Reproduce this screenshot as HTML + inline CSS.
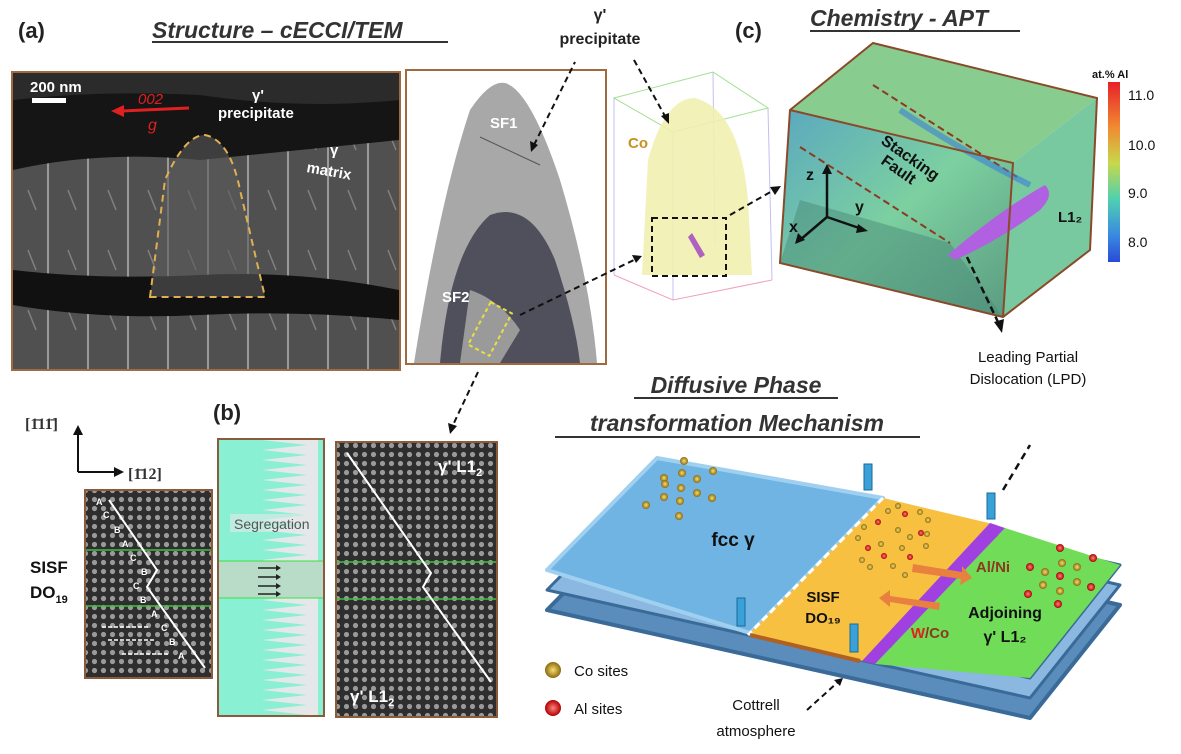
<!DOCTYPE html>
<html><head><meta charset="utf-8"><style>
body{margin:0;background:#fff;width:1181px;height:749px;overflow:hidden;font-family:"Liberation Sans",sans-serif}
</style></head><body>
<svg width="1181" height="749" viewBox="0 0 1181 749" xmlns="http://www.w3.org/2000/svg" font-family="Liberation Sans, sans-serif">
<defs>
<linearGradient id="cb" x1="0" y1="0" x2="0" y2="1"><stop offset="0" stop-color="#e8202a"/><stop offset="0.25" stop-color="#f08a30"/><stop offset="0.45" stop-color="#c8d84a"/><stop offset="0.65" stop-color="#50d0b0"/><stop offset="0.85" stop-color="#3a8ae0"/><stop offset="1" stop-color="#2a4ad8"/></linearGradient>
<linearGradient id="front" x1="0" y1="0" x2="1" y2="1"><stop offset="0" stop-color="#5aa8c0"/><stop offset="0.5" stop-color="#7cd0a0"/><stop offset="1" stop-color="#5a9a80"/></linearGradient>
<pattern id="lat" width="9" height="9" patternUnits="userSpaceOnUse"><rect width="9" height="9" fill="#2e2e2e"/><circle cx="4.5" cy="4.5" r="2.6" fill="#9a9a9a"/></pattern>
<pattern id="seg" width="106" height="10" patternUnits="userSpaceOnUse"><rect width="106" height="10" fill="#e4e8e8"/><path d="M0 0 H50 L95 5 L50 10 H0z" fill="#8af0d4"/></pattern>
<pattern id="streak" width="40" height="60" patternUnits="userSpaceOnUse"><rect width="40" height="60" fill="#505050"/><line x1="8" y1="0" x2="8" y2="60" stroke="#9a9a9a" stroke-width="2"/><line x1="28" y1="10" x2="36" y2="30" stroke="#808080" stroke-width="1.5"/></pattern>
<radialGradient id="co"><stop offset="0" stop-color="#f8e070"/><stop offset="1" stop-color="#8a6a10"/></radialGradient>
<radialGradient id="al"><stop offset="0" stop-color="#ff8080"/><stop offset="1" stop-color="#b00000"/></radialGradient>
</defs>

<text x="18" y="38" font-size="22" font-weight="bold" fill="#222">(a)</text>
<text x="152" y="38" font-size="23" font-weight="bold" font-style="italic" fill="#333">Structure – cECCI/TEM</text>
<line x1="152" y1="42" x2="448" y2="42" stroke="#333" stroke-width="2"/>
<text x="735" y="38" font-size="22" font-weight="bold" fill="#222">(c)</text>
<text x="810" y="26" font-size="23" font-weight="bold" font-style="italic" fill="#333">Chemistry - APT</text>
<line x1="810" y1="31" x2="1020" y2="31" stroke="#333" stroke-width="2"/>

<!-- SEM image -->
<rect x="12" y="72" width="388" height="298" fill="url(#streak)" stroke="#a06a40" stroke-width="2"/>
<path d="M13 73 H399 V140 Q300 150 200 160 Q100 150 13 170z" fill="#151515"/>
<path d="M13 73 H399 V100 Q300 110 200 95 Q100 90 13 100z" fill="#3a3a3a" opacity="0.6"/>
<path d="M13 270 Q100 280 200 275 Q300 270 399 290 V320 Q300 310 200 315 Q100 320 13 305z" fill="#111"/>
<path d="M150 297 L165 180 Q185 135 205 135 Q230 140 240 190 L265 297z" fill="#5a5a5a" opacity="0.6"/>
<path d="M150 297 L165 180 Q185 135 205 135 Q230 140 240 190 L265 297 Z" fill="none" stroke="#e0b050" stroke-width="2" stroke-dasharray="7 5"/>
<rect x="32" y="98" width="34" height="5" fill="#fff"/>
<text x="30" y="92" font-size="15" fill="#fff" font-weight="bold">200 nm</text>
<line x1="189" y1="108" x2="122" y2="111" stroke="#e02020" stroke-width="3"/><path d="M111 111 L124 105 L124 117z" fill="#e02020"/>
<text x="138" y="104" font-size="15" fill="#e02020" font-style="italic">002</text><text x="148" y="130" font-size="16" fill="#e02020" font-style="italic">g</text>
<text x="252" y="100" font-size="15" fill="#fff" font-weight="bold">γ'</text><text x="218" y="118" font-size="15" fill="#fff" font-weight="bold">precipitate</text>
<text x="330" y="155" font-size="15" fill="#fff" font-weight="bold">γ</text><text x="306" y="172" font-size="15" fill="#fff" font-weight="bold" transform="rotate(10 306 172)">matrix</text>

<!-- TEM -->
<rect x="406" y="70" width="200" height="294" fill="#fff" stroke="#a06a40" stroke-width="2"/>
<path d="M414 363 Q440 200 470 110 Q490 80 505 83 Q530 90 560 180 Q590 280 597 363z" fill="#a8a8a8"/>
<path d="M440 363 Q450 250 490 215 Q530 200 555 260 Q575 320 580 363z" fill="#3a3a48" opacity="0.8"/>
<path d="M470 290 Q500 300 520 330 L500 363 L460 363z" fill="#9a9a9a"/>
<line x1="480" y1="137" x2="540" y2="165" stroke="#555" stroke-width="1"/>
<text x="490" y="128" font-size="15" fill="#fff" font-weight="bold">SF1</text>
<text x="442" y="302" font-size="15" fill="#fff" font-weight="bold">SF2</text>
<rect x="478" y="305" width="24" height="48" fill="none" stroke="#e8e040" stroke-width="2" stroke-dasharray="4 3" transform="rotate(28 490 329)"/>
<line x1="534" y1="145" x2="575" y2="62" stroke="#111" stroke-width="2" stroke-dasharray="6 4"/>
<path d="M531 152 L530 141 L538 145z" fill="#111"/>

<!-- APT left -->
<text x="600" y="20" font-size="16" font-weight="bold" fill="#222" text-anchor="middle">γ'</text><text x="600" y="44" font-size="16" font-weight="bold" fill="#222" text-anchor="middle">precipitate</text>
<g fill="none" stroke-width="1">
<polygon points="614,98 713,72 768,108 673,132" stroke="#a0e090"/>
<line x1="614" y1="98" x2="614" y2="275" stroke="#c0c0f0"/><line x1="673" y1="132" x2="673" y2="300" stroke="#c0c0f0"/>
<line x1="768" y1="108" x2="772" y2="280" stroke="#c0c0f0"/><line x1="713" y1="72" x2="715" y2="243" stroke="#c0c0f0"/>
<polyline points="614,275 673,300 772,280" stroke="#f0a0c0"/>
</g>
<path d="M642 275 L648 160 Q665 98 695 98 Q740 110 748 200 L752 275z" fill="#f0f0b0" opacity="0.9"/>
<text x="628" y="148" font-size="15" fill="#c89020" font-weight="bold">Co</text>
<rect x="652" y="218" width="74" height="58" fill="none" stroke="#111" stroke-width="2" stroke-dasharray="6 4"/>
<path d="M688 237 L700 258 L705 255 L692 233z" fill="#b060c0"/>
<line x1="634" y1="60" x2="666" y2="118" stroke="#111" stroke-width="2" stroke-dasharray="6 4"/>
<path d="M669 124 L661 116 L669 113z" fill="#111"/>
<line x1="520" y1="315" x2="636" y2="259" stroke="#111" stroke-width="2" stroke-dasharray="6 4"/>
<path d="M642 256 L632 255 L636 263z" fill="#111"/>
<line x1="730" y1="215" x2="774" y2="190" stroke="#111" stroke-width="2" stroke-dasharray="6 4"/>
<path d="M781 186 L770 187 L775 195z" fill="#111"/>

<!-- APT box -->
<polygon points="790,110 873,43 1097,98 1013,163" fill="#88cc90"/>
<polygon points="1013,163 1097,98 1090,250 1003,317" fill="#78c8a0"/>
<polygon points="790,110 1013,163 1003,317 780,263" fill="url(#front)"/>
<polygon points="800,200 950,243 1003,317 780,263" fill="#4a8a78" opacity="0.5"/>
<path d="M873,85 L1017,177 M800,147 L950,243" stroke="#8a3a20" stroke-width="2" stroke-dasharray="7 4"/>
<path d="M900 110 Q960 150 1030 185" stroke="#3a80d8" stroke-width="6" fill="none" opacity="0.6"/>
<path d="M948 255 Q1000 210 1045 185 Q1055 195 1040 210 Q1000 240 955 260z" fill="#b060e0"/>
<g fill="none" stroke="#8a4a2a" stroke-width="2">
<polygon points="790,110 873,43 1097,98 1090,250 1003,317 780,263"/>
<polyline points="790,110 1013,163 1003,317 M1013,163 1097,98"/>
</g>
<text x="880" y="143" font-size="16" font-weight="bold" fill="#111" transform="rotate(35 880 143)">Stacking</text>
<text x="880" y="163" font-size="16" font-weight="bold" fill="#111" transform="rotate(35 880 163)">Fault</text>
<text x="1058" y="222" font-size="15" font-weight="bold" fill="#111">L1₂</text>
<path d="M827 217 L827 170 M827 217 L862 229 M827 217 L800 240" stroke="#111" stroke-width="2.5" fill="none"/>
<path d="M827 164 L822 174 L832 174z M868 231 L858 224 L856 233z M795 244 L798 233 L805 240z" fill="#111"/>
<text x="806" y="180" font-size="16" fill="#111" font-weight="bold">z</text><text x="855" y="212" font-size="16" fill="#111" font-weight="bold">y</text><text x="789" y="232" font-size="16" fill="#111" font-weight="bold">x</text>
<line x1="967" y1="257" x2="998" y2="322" stroke="#111" stroke-width="2.5" stroke-dasharray="7 4"/>
<path d="M1002 333 L994 322 L1004 319z" fill="#111"/>
<text x="1028" y="362" font-size="15" fill="#111" text-anchor="middle">Leading Partial</text>
<text x="1028" y="384" font-size="15" fill="#111" text-anchor="middle">Dislocation (LPD)</text>
<text x="1092" y="78" font-size="11" font-weight="bold" fill="#111">at.% Al</text>
<rect x="1108" y="82" width="12" height="180" fill="url(#cb)"/>
<text x="1128" y="100" font-size="14" fill="#111">11.0</text><text x="1128" y="150" font-size="14" fill="#111">10.0</text><text x="1128" y="198" font-size="14" fill="#111">9.0</text><text x="1128" y="247" font-size="14" fill="#111">8.0</text>

<!-- bottom left -->
<text x="25" y="429" font-size="16" font-weight="bold" fill="#333" font-family="Liberation Serif">[1̄11̄]</text>
<path d="M78 472 L78 432 M78 472 L118 472" fill="none" stroke="#111" stroke-width="2"/>
<path d="M78 425 L73 435 L83 435z M124 472 L114 467 L114 477z" fill="#111"/>
<text x="128" y="479" font-size="16" font-weight="bold" fill="#333" font-family="Liberation Serif">[1̄12]</text>
<rect x="85" y="490" width="127" height="188" fill="url(#lat)" stroke="#8a5a3a" stroke-width="2"/>
<line x1="86" y1="550" x2="211" y2="550" stroke="#40c040" stroke-width="1.5"/><line x1="86" y1="606" x2="211" y2="606" stroke="#40c040" stroke-width="1.5"/>
<polyline points="109,500 157,570 147,587 205,668" fill="none" stroke="#fff" stroke-width="2"/>
<g font-size="9" fill="#fff" font-weight="bold">
<text x="96" y="505">A</text><text x="103" y="518">C</text><text x="114" y="533">B</text><text x="122" y="547">A</text><text x="130" y="561">C</text><text x="141" y="575">B</text><text x="133" y="589">C</text><text x="140" y="603">B</text><text x="151" y="617">A</text><text x="161" y="631">C</text><text x="169" y="645">B</text><text x="178" y="659">A</text>
</g>
<path d="M102 627 H148 M108 640 H155 M122 654 H168" stroke="#fff" stroke-width="1.5" stroke-dasharray="4 2"/>
<text x="30" y="573" font-size="17" font-weight="bold" fill="#111">SISF</text><text x="30" y="598" font-size="17" font-weight="bold" fill="#111">DO<tspan font-size="11" dy="5">19</tspan></text>
<text x="213" y="420" font-size="22" font-weight="bold" fill="#222">(b)</text>
<rect x="218" y="439" width="106" height="277" fill="url(#seg)" stroke="#8a5a3a" stroke-width="2"/>
<rect x="219" y="561" width="104" height="37" fill="#b8dcc8"/>
<line x1="219" y1="561" x2="323" y2="561" stroke="#40e040"/><line x1="219" y1="598" x2="323" y2="598" stroke="#40e040"/>
<path d="M258 568 H278 M258 577 H278 M258 586 H278 M258 594 H278" stroke="#222" stroke-width="1.5"/>
<path d="M281 568 l-5 -3 v6z M281 577 l-5 -3 v6z M281 586 l-5 -3 v6z M281 594 l-5 -3 v6z" fill="#222"/>
<rect x="230" y="514" width="86" height="18" fill="#e4e8e8" opacity="0.6"/>
<text x="234" y="529" font-size="14" fill="#555">Segregation</text>
<rect x="336" y="442" width="161" height="275" fill="url(#lat)" stroke="#8a5a3a" stroke-width="2"/>
<line x1="337" y1="562" x2="496" y2="562" stroke="#40c040" stroke-width="1.5"/><line x1="337" y1="599" x2="496" y2="599" stroke="#40c040" stroke-width="1.5"/>
<polyline points="347,453 431,573 423,587 491,682" fill="none" stroke="#fff" stroke-width="2"/>
<text x="438" y="472" font-size="17" fill="#fff" font-weight="bold">γ' L1<tspan font-size="11" dy="4">2</tspan></text>
<text x="350" y="702" font-size="17" fill="#fff" font-weight="bold">γ' L1<tspan font-size="11" dy="4">2</tspan></text>
<line x1="478" y1="372" x2="453" y2="425" stroke="#111" stroke-width="2" stroke-dasharray="6 4"/>
<path d="M450 434 L448 423 L457 426z" fill="#111"/>

<!-- mechanism title -->
<text x="736" y="393" font-size="23" font-weight="bold" font-style="italic" fill="#333" text-anchor="middle">Diffusive Phase</text>
<line x1="634" y1="398" x2="838" y2="398" stroke="#333" stroke-width="2"/>
<text x="737" y="431" font-size="23" font-weight="bold" font-style="italic" fill="#333" text-anchor="middle">transformation Mechanism</text>
<line x1="555" y1="437" x2="920" y2="437" stroke="#333" stroke-width="2"/>
<line x1="1003" y1="490" x2="1030" y2="445" stroke="#111" stroke-width="2.5" stroke-dasharray="7 5"/>

<!-- platform -->
<g stroke-linejoin="round">
<polygon points="657,498 1120,605 1030,718 547,610" fill="#5a8cbc" stroke="#3a6a98" stroke-width="4"/>
<polygon points="657,478 1120,585 1030,698 547,590" fill="#8ab8e0" stroke="#3a6a98" stroke-width="3"/>
<polygon points="657,458 1120,565 1030,678 547,570" fill="#8ab8e0" stroke="#3a6a98" stroke-width="3"/>
<polygon points="657,458 883,498 750,633 547,570" fill="#70b4e4" stroke="#a0d0f0" stroke-width="4"/>
<polygon points="883,498 997,525 867,662 750,633" fill="#f8c040"/>
<polygon points="1005,528 1120,565 1030,678 875,664" fill="#70dc58"/>
<polygon points="990,523 1005,528 875,664 862,661" fill="#a040e0"/>
<line x1="883" y1="498" x2="748" y2="635" stroke="#fff" stroke-width="3" stroke-dasharray="7 4"/>
<line x1="750" y1="635" x2="860" y2="661" stroke="#b06020" stroke-width="4"/>
</g>
<g fill="url(#co)">
<circle cx="684" cy="461" r="4"/><circle cx="664" cy="478" r="4"/><circle cx="682" cy="473" r="4"/><circle cx="697" cy="479" r="4"/><circle cx="713" cy="471" r="4"/>
<circle cx="665" cy="484" r="4"/><circle cx="681" cy="488" r="4"/><circle cx="697" cy="493" r="4"/><circle cx="664" cy="497" r="4"/><circle cx="680" cy="501" r="4"/><circle cx="712" cy="498" r="4"/><circle cx="646" cy="505" r="4"/><circle cx="679" cy="516" r="4"/>
<circle cx="888" cy="511" r="3"/><circle cx="898" cy="506" r="3"/><circle cx="920" cy="512" r="3"/><circle cx="928" cy="520" r="3"/><circle cx="864" cy="527" r="3"/><circle cx="898" cy="530" r="3"/><circle cx="910" cy="537" r="3"/><circle cx="927" cy="534" r="3"/><circle cx="858" cy="538" r="3"/><circle cx="881" cy="544" r="3"/><circle cx="902" cy="548" r="3"/><circle cx="926" cy="546" r="3"/><circle cx="862" cy="560" r="3"/><circle cx="893" cy="566" r="3"/><circle cx="905" cy="575" r="3"/><circle cx="870" cy="567" r="3"/>
<circle cx="1062" cy="563" r="4"/><circle cx="1077" cy="567" r="4"/><circle cx="1045" cy="572" r="4"/><circle cx="1043" cy="585" r="4"/><circle cx="1077" cy="582" r="4"/><circle cx="1060" cy="591" r="4"/>
</g>
<g fill="url(#al)">
<circle cx="905" cy="514" r="3"/><circle cx="878" cy="522" r="3"/><circle cx="921" cy="533" r="3"/><circle cx="868" cy="548" r="3"/><circle cx="910" cy="557" r="3"/><circle cx="884" cy="556" r="3"/>
<circle cx="1060" cy="548" r="4"/><circle cx="1093" cy="558" r="4"/><circle cx="1030" cy="567" r="4"/><circle cx="1060" cy="576" r="4"/><circle cx="1091" cy="587" r="4"/><circle cx="1028" cy="594" r="4"/><circle cx="1058" cy="604" r="4"/>
</g>
<polygon points="913,564 962,572 962,566 972,578 960,585 961,579 912,572" fill="#e88040"/>
<polygon points="940,603 890,596 890,590 879,598 890,607 890,602 939,610" fill="#e88040"/>
<g fill="#3aa0d8" stroke="#1a6a98"><rect x="864" y="464" width="8" height="26"/><rect x="987" y="493" width="8" height="26"/><rect x="737" y="598" width="8" height="28"/><rect x="850" y="624" width="8" height="28"/></g>
<text x="733" y="546" font-size="19" font-weight="bold" fill="#111" text-anchor="middle">fcc γ</text>
<text x="823" y="602" font-size="15" font-weight="bold" fill="#111" text-anchor="middle">SISF</text>
<text x="823" y="623" font-size="15" font-weight="bold" fill="#111" text-anchor="middle">DO₁₉</text>
<text x="993" y="572" font-size="15" font-weight="bold" fill="#8a3a20" text-anchor="middle">Al/Ni</text>
<text x="930" y="638" font-size="15" font-weight="bold" text-anchor="middle"><tspan fill="#e02020">W</tspan><tspan fill="#8a3a20">/Co</tspan></text>
<text x="1005" y="618" font-size="16" font-weight="bold" fill="#111" text-anchor="middle">Adjoining</text>
<text x="1005" y="642" font-size="16" font-weight="bold" fill="#111" text-anchor="middle">γ' L1₂</text>
<circle cx="553" cy="670" r="8" fill="url(#co)"/><text x="574" y="676" font-size="15" fill="#111">Co sites</text>
<circle cx="553" cy="708" r="8" fill="url(#al)"/><text x="574" y="714" font-size="15" fill="#111">Al sites</text>
<text x="756" y="710" font-size="15" fill="#111" text-anchor="middle">Cottrell</text>
<text x="756" y="736" font-size="15" fill="#111" text-anchor="middle">atmosphere</text>
<line x1="807" y1="710" x2="838" y2="682" stroke="#111" stroke-width="2" stroke-dasharray="6 4"/>
<path d="M843 678 L834 680 L840 686z" fill="#111"/>
</svg>
</body></html>
